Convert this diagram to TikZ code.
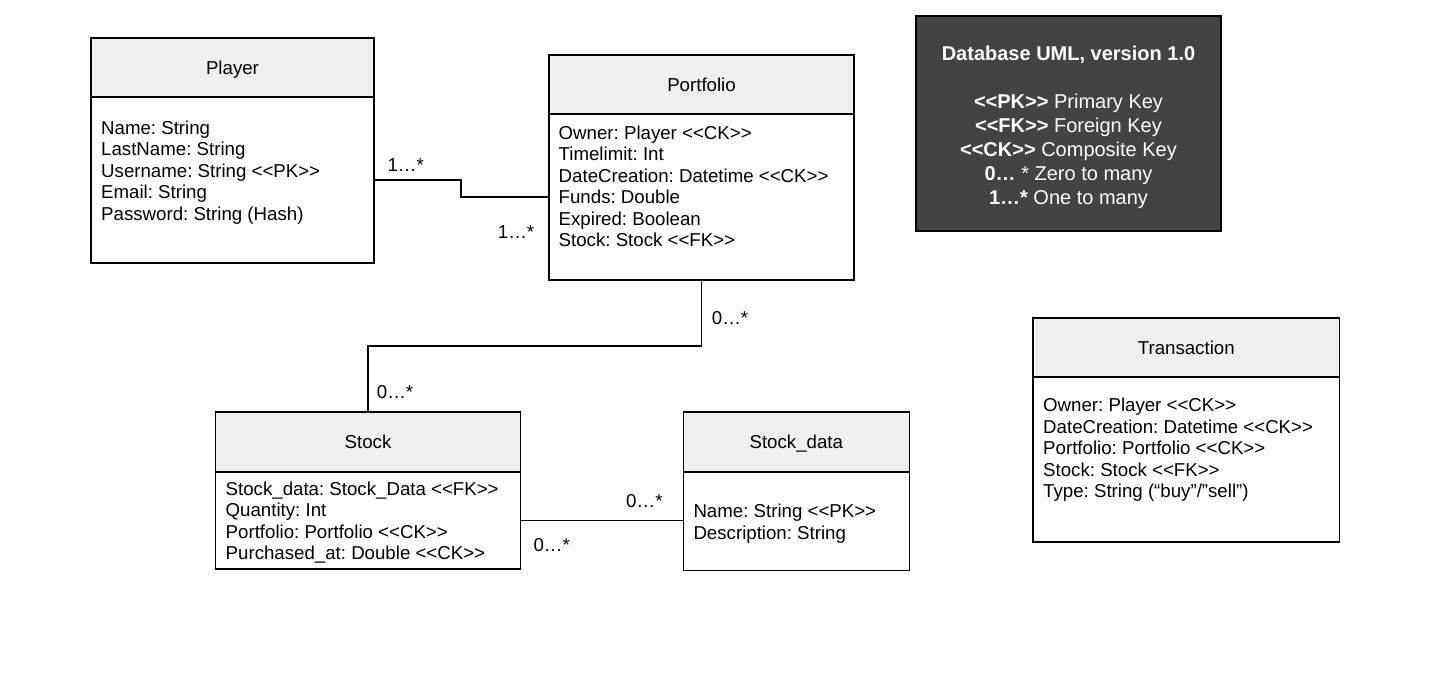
\documentclass[tikz,border=0pt]{standalone}
\usepackage{fontspec}
\usepackage{xcolor}
\usepackage{tikz}
\usetikzlibrary{positioning,calc}
\newfontfamily\umlfont{Liberation Sans}
\definecolor{hdrgray}{HTML}{EFEFEF}
\definecolor{legendgray}{HTML}{434343}
\newcommand\keyfont{\umlfont\fontsize{18.67}{21.5}\selectfont\frenchspacing}
\newcommand\legendfont{\umlfont\fontsize{20}{24}\selectfont\frenchspacing}
\tikzset{
  hdr/.style = {draw, line width = 1.2pt, fill = hdrgray, inner sep = 0pt, outer sep = 0pt, font = \keyfont, text height = 13.4pt, text depth = 0pt},
  body/.style = {draw, line width = 1.2pt, fill = white, inner sep = 0pt, outer sep = 0pt},
  attrs/.style = {anchor = north west, inner sep = 0pt, align = left, font = \keyfont},
  mult/.style = {anchor = base west, inner sep = 0pt, font = \keyfont},
  conn/.style = {line width = 1.2pt}
}

\begin{document}
\begin{tikzpicture}[x = 1pt, y = -1pt]
\useasboundingbox (0,0) rectangle (1444,700);
% classes
\node[hdr, anchor = north west, minimum width = 283pt, minimum height = 59pt] (player) at (91,38) {Player};
\node[body, minimum width = 283pt, minimum height = 166pt, below = 0pt of player] (playerbody) {};
\node[attrs] (playerattrs) at ([shift = {(10,22)}]playerbody.north west) {\strut Name: String\\LastName: String\\Username: String <<PK>>\\Email: String\\Password: String (Hash)};

\node[hdr, anchor = north west, minimum width = 305pt, minimum height = 59pt] (portfolio) at (549,55) {Portfolio};
\node[body, minimum width = 305pt, minimum height = 166pt, below = 0pt of portfolio] (portfoliobody) {};
\node[attrs] (portfolioattrs) at ([shift = {(9.5,10)}]portfoliobody.north west) {\strut Owner: Player <<CK>>\\Timelimit: Int\\DateCreation: Datetime <<CK>>\\Funds: Double\\Expired: Boolean\\Stock: Stock <<FK>>};

\node[hdr, anchor = north west, minimum width = 305pt, minimum height = 60pt] (stock) at (215.5,412) {Stock};
\node[body, minimum width = 305pt, minimum height = 97pt, below = 0pt of stock] (stockbody) {};
\node[attrs] (stockattrs) at ([shift = {(10,8)}]stockbody.north west) {\strut Stock\_data: Stock\_Data <<FK>>\\Quantity: Int\\Portfolio: Portfolio <<CK>>\\Purchased\_at: Double <<CK>>};

\node[hdr, anchor = north west, minimum width = 226pt, minimum height = 60pt] (stockdata) at (683.3,412) {Stock\_data};
\node[body, minimum width = 226pt, minimum height = 98.5pt, below = 0pt of stockdata] (stockdatabody) {};
\node[attrs] (stockdataattrs) at ([shift = {(10,30.5)}]stockdatabody.north west) {\strut Name: String <<PK>>\\Description: String};

\node[hdr, anchor = north west, minimum width = 306.5pt, minimum height = 59pt] (transaction) at (1033,318) {Transaction};
\node[body, minimum width = 306.5pt, minimum height = 165pt, below = 0pt of transaction] (transactionbody) {};
\node[attrs] (transactionattrs) at ([shift = {(10,19.5)}]transactionbody.north west) {\strut Owner: Player <<CK>>\\DateCreation: Datetime <<CK>>\\Portfolio: Portfolio <<CK>>\\Stock: Stock <<FK>>\\Type: String (“buy”/”sell”)};

% legend
\node[draw, line width = 1.2pt, fill = legendgray, anchor = north west, minimum width = 305pt, minimum height = 215pt, inner sep = 0pt, outer sep = 0pt] (legend) at (916,16) {};
\node[anchor = north, inner sep = 0pt, align = center, text = white, font = \legendfont] (legendtext) at ([shift = {(0,27.5)}]legend.north) {\strut\textbf{Database UML, version 1.0}\\[24pt]\textbf{<<PK>>} Primary Key\\\textbf{<<FK>>} Foreign Key\\\textbf{<<CK>>} Composite Key\\\textbf{0…} * Zero to many\\\textbf{1…*} One to many};

% connectors
\draw[conn] (playerbody.east) -- ++(87,0) |- (portfoliobody.west);
\draw[conn] (portfoliobody.south) -- ++(0,66) -| (stock.north);
\draw[conn] (stockbody.east) -- (stockbody.east -| stockdatabody.west);

% multiplicities
\node[mult] (m-player) at (387.3,171.5) {1…*};
\node[mult] (m-portfolio) at (497.7,238.3) {1…*};
\node[mult] (m-portfolio2) at (711.7,324.3) {0…*};
\node[mult] (m-stock) at (376.7,398.3) {0…*};
\node[mult] (m-stockdata) at (626,507.3) {0…*};
\node[mult] (m-stock2) at (533.3,551.7) {0…*};
\end{tikzpicture}
\end{document}
